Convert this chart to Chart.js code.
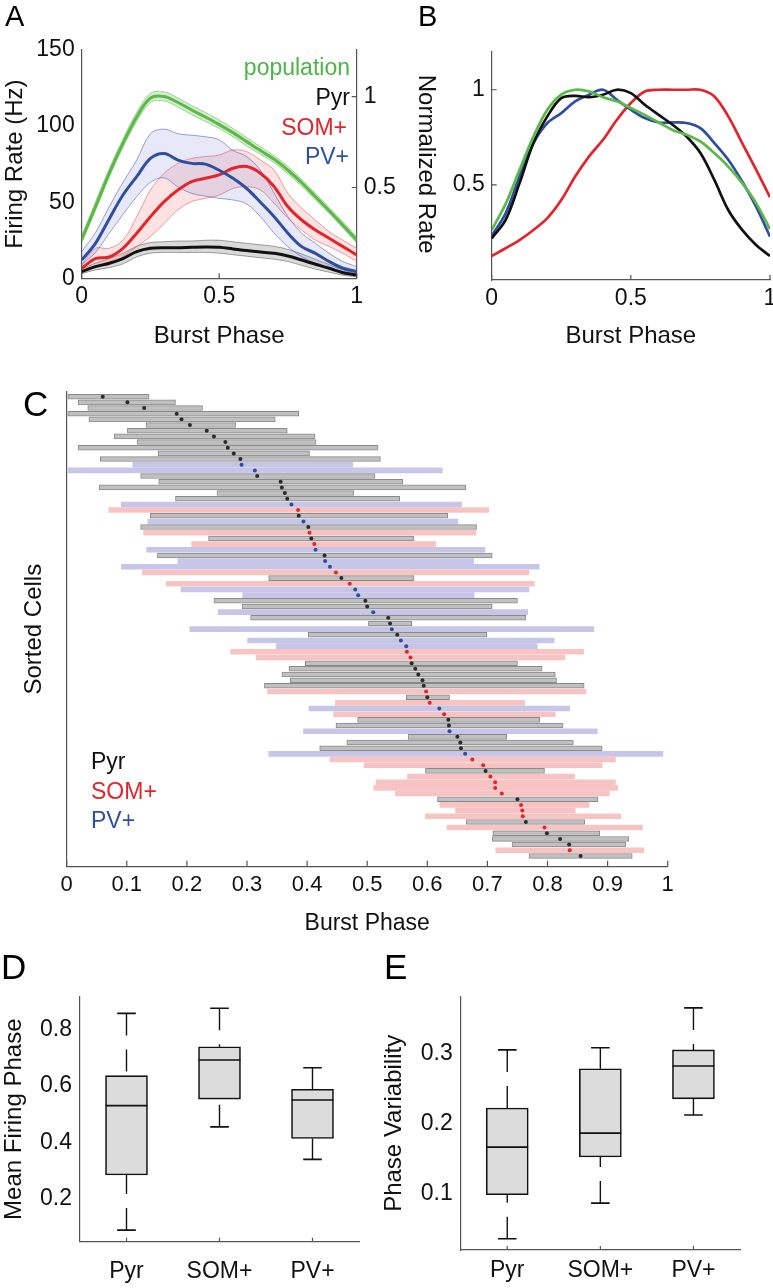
<!DOCTYPE html>
<html>
<head>
<meta charset="utf-8">
<script src="https://cdn.jsdelivr.net/npm/chart.js@4.4.1/dist/chart.umd.min.js"></script>
<style>
  html, body { margin: 0; padding: 0; background: #fff; overflow: hidden; }
  body { width: 773px; height: 1288px; position: relative; font-family: "Liberation Sans", Arial, sans-serif; }
  canvas { position: absolute; }
  .txt { position: absolute; font-size: 23px; line-height: 23px; white-space: nowrap; }
  .letter { position: absolute; line-height: 1; }
</style>
</head>
<body>
<canvas id="chartA" width="440" height="355" style="left:0;top:0"></canvas>
<canvas id="chartB" width="350" height="355" style="left:440px;top:0"></canvas>
<canvas id="chartC" width="773" height="570" style="left:0;top:370px"></canvas>
<canvas id="chartD" width="390" height="348" style="left:0;top:940px"></canvas>
<canvas id="chartE" width="398" height="348" style="left:375px;top:940px"></canvas>

<div class="letter" style="left:5px;top:2px;font-size:29px">A</div>
<div class="letter" style="left:418px;top:2px;font-size:29px">B</div>
<div class="letter" style="left:23px;top:386px;font-size:35px">C</div>
<div class="letter" style="left:1px;top:949px;font-size:35px">D</div>
<div class="letter" style="left:384px;top:949px;font-size:35px">E</div>

<div class="txt" style="right:423px;top:56px;color:#4db548">population</div>
<div class="txt" style="right:423px;top:86px;color:#111">Pyr</div>
<div class="txt" style="right:426px;top:116px;color:#e2252b">SOM+</div>
<div class="txt" style="right:424px;top:145px;color:#2f4ea2">PV+</div>

<div class="txt" style="left:91px;top:750px;color:#111">Pyr</div>
<div class="txt" style="left:91px;top:780px;color:#e2252b">SOM+</div>
<div class="txt" style="left:91px;top:809px;color:#2f4ea2">PV+</div>

<script>
// ---- panel A: firing rate vs burst phase (Hz) ----
const phase = [0, 0.05, 0.1, 0.15, 0.2, 0.25, 0.3, 0.35, 0.4, 0.45, 0.5, 0.55, 0.6, 0.65, 0.7, 0.75, 0.8, 0.85, 0.9, 0.95, 1];

const popMean = [25.6, 47, 69, 88.7, 106, 118.5, 119.5, 115.5, 110.6, 106, 101, 95.7, 89.8, 83.9, 78.2, 71, 62.8, 53.6, 44.4, 34.8, 25.2];
const popHi   = [28, 50, 72, 91.5, 109, 121.5, 122.5, 118.5, 113.5, 109, 104, 98.5, 92.5, 86.5, 80.5, 73.5, 65, 56, 46.5, 37, 27.5];
const popLo   = [23.5, 44.5, 66.5, 86, 103, 115.5, 116.5, 112.5, 107.5, 103, 98.5, 93, 87, 81.5, 76, 68.5, 60.5, 51.5, 42.5, 33, 23];

const pvMean = [12, 23, 39, 54.7, 66.8, 78.8, 82, 77.7, 75.5, 75, 71, 65.7, 59, 50, 40.5, 29.6, 20.8, 16.4, 11, 6.6, 4.4];
const pvHi   = [17.5, 30, 47, 63, 77.7, 95, 98, 95, 94, 93, 91, 84, 80, 71, 56, 40.5, 29.6, 23, 16.4, 11, 7.7];
const pvLo   = [8.8, 17, 29.6, 42, 53.6, 63, 66, 60, 55.8, 54, 52.5, 51.5, 48.8, 40.5, 29.6, 20.8, 14.2, 9.9, 6.6, 4.4, 2.8];

const somMean = [6.6, 13, 14, 19.7, 29.6, 40.5, 50.4, 58, 63.5, 65.7, 67.9, 72.3, 73.4, 69, 60.2, 47, 38.3, 31.7, 26.3, 20.8, 15.3];
const somHi   = [8.8, 19.7, 19.7, 25, 40.5, 58, 69, 75.5, 78.8, 80, 81, 84.3, 83.2, 77.7, 71, 55.8, 46, 38.3, 30.6, 25, 19.7];
const somLo   = [4.4, 7.7, 8.8, 14.2, 20.8, 27.4, 36, 45, 50.4, 52.5, 54.7, 59, 60.2, 58, 49.3, 39.4, 31.7, 25, 20.8, 16.4, 11];

const pyrMean = [4.4, 7.7, 9.9, 13, 17.5, 19.7, 20.1, 20.1, 20.4, 20.6, 20.4, 19.3, 18.2, 17.3, 16.4, 14.7, 12, 9.2, 6.6, 3.7, 2.2];
const pyrHi   = [6, 10, 13, 16.5, 21, 23.5, 24, 24.5, 24.5, 25, 25, 24, 23, 22, 21, 19, 16, 12.5, 9, 5.5, 3.5];
const pyrLo   = [3, 5.5, 7, 9.5, 14, 16.5, 17, 17, 17, 17, 16.5, 15.5, 14.5, 13.5, 12.5, 11, 8.5, 6, 4, 2, 1];

// ---- panel B: normalized rate ----
const normPop = [0.263, 0.40, 0.579, 0.754, 0.895, 0.974, 1.0, 0.991, 0.961, 0.939, 0.904, 0.868, 0.828, 0.789, 0.763, 0.728, 0.667, 0.596, 0.509, 0.404, 0.267];
const normPv  = [0.232, 0.35, 0.544, 0.72, 0.825, 0.877, 0.939, 0.974, 1.0, 0.947, 0.895, 0.851, 0.828, 0.828, 0.825, 0.798, 0.72, 0.632, 0.518, 0.386, 0.228];
const normPyr = [0.219, 0.316, 0.509, 0.72, 0.86, 0.956, 0.968, 0.961, 0.974, 1.0, 0.982, 0.921, 0.868, 0.816, 0.754, 0.667, 0.526, 0.368, 0.263, 0.184, 0.126];
const normSom = [0.126, 0.167, 0.21, 0.263, 0.325, 0.42, 0.544, 0.65, 0.737, 0.842, 0.93, 0.991, 1.0, 1.0, 1.0, 1.0, 0.965, 0.86, 0.72, 0.58, 0.435];

// ---- panel C: per-cell firing window, sorted by peak phase ----
const cellType = ['Pyr','Pyr','Pyr','Pyr','Pyr','Pyr','Pyr','Pyr','Pyr','Pyr','Pyr','Pyr','PV','PV','Pyr','Pyr','Pyr','Pyr','Pyr','PV',
  'SOM','Pyr','PV','Pyr','SOM','Pyr','SOM','PV','Pyr','PV','PV','SOM','Pyr','SOM','PV','PV','Pyr','Pyr','PV','Pyr',
  'Pyr','PV','Pyr','PV','PV','SOM','SOM','Pyr','Pyr','Pyr','Pyr','Pyr','SOM','Pyr','SOM','PV','SOM','Pyr','Pyr','PV',
  'Pyr','Pyr','Pyr','PV','SOM','SOM','Pyr','SOM','SOM','SOM','SOM','Pyr','SOM','SOM','SOM','Pyr','SOM','Pyr','Pyr','Pyr',
  'SOM','Pyr'];
const cellStart = [0.002,0.019,0.035,0.002,0.037,0.132,0.101,0.079,0.117,0.019,0.152,0.056,0.110,0.002,0.123,0.153,0.054,0.250,0.181,0.091,
  0.070,0.139,0.135,0.123,0.128,0.236,0.208,0.133,0.151,0.185,0.091,0.126,0.336,0.166,0.190,0.293,0.245,0.292,0.252,0.306,
  0.502,0.205,0.402,0.301,0.349,0.273,0.315,0.397,0.370,0.358,0.372,0.329,0.334,0.565,0.447,0.403,0.444,0.484,0.448,0.394,
  0.568,0.466,0.421,0.336,0.438,0.495,0.597,0.567,0.515,0.511,0.547,0.617,0.621,0.647,0.597,0.665,0.633,0.709,0.708,0.741,
  0.714,0.769];
const cellEnd = [0.137,0.181,0.226,0.386,0.347,0.281,0.367,0.413,0.415,0.518,0.404,0.522,0.476,0.625,0.513,0.559,0.664,0.478,0.554,0.657,
  0.702,0.634,0.651,0.682,0.681,0.578,0.614,0.696,0.708,0.677,0.786,0.769,0.578,0.778,0.769,0.678,0.750,0.708,0.767,0.764,
  0.574,0.877,0.699,0.811,0.783,0.860,0.829,0.750,0.791,0.813,0.815,0.861,0.864,0.637,0.762,0.837,0.813,0.787,0.826,0.883,
  0.732,0.843,0.891,0.992,0.913,0.891,0.795,0.845,0.913,0.917,0.903,0.884,0.869,0.846,0.922,0.862,0.958,0.887,0.935,0.930,
  0.960,0.941];
const cellPeak = [0.060,0.101,0.129,0.183,0.191,0.205,0.233,0.245,0.264,0.268,0.278,0.289,0.291,0.313,0.317,0.356,0.358,0.363,0.367,0.374,
  0.385,0.386,0.394,0.402,0.404,0.407,0.412,0.414,0.429,0.430,0.438,0.448,0.457,0.471,0.480,0.485,0.497,0.500,0.510,0.535,
  0.538,0.541,0.550,0.556,0.565,0.566,0.572,0.574,0.580,0.585,0.592,0.594,0.598,0.600,0.604,0.620,0.628,0.635,0.636,0.637,
  0.650,0.655,0.656,0.663,0.675,0.693,0.697,0.705,0.713,0.713,0.724,0.750,0.756,0.758,0.759,0.764,0.795,0.799,0.821,0.836,
  0.837,0.855];

// ---- panels D, E: box plots per cell class ----
const groups = ['Pyr', 'SOM+', 'PV+'];
const phaseWhiskHi = [0.856, 0.874, 0.664];
const phaseQ3      = [0.636, 0.738, 0.588];
const phaseMedian  = [0.530, 0.691, 0.550];
const phaseQ1      = [0.285, 0.553, 0.414];
const phaseWhiskLo = [0.090, 0.455, 0.340];

const varWhiskHi = [0.306, 0.309, 0.366];
const varQ3      = [0.223, 0.279, 0.306];
const varMedian  = [0.167, 0.187, 0.283];
const varQ1      = [0.099, 0.153, 0.236];
const varWhiskLo = [0.036, 0.087, 0.213];

const GREEN = '#5bb947', RED = '#e2252b', BLUE = '#2f4ea2', BLACK = '#111111';
const AXIS = '#555555';

Chart.defaults.font.family = '"Liberation Sans", Arial, sans-serif';
Chart.defaults.color = '#111';
Chart.defaults.animation = false;
Chart.defaults.plugins.legend.display = false;
Chart.defaults.plugins.tooltip.enabled = false;

// MATLAB style tick marks that point into the plot
const inwardTicks = {
  id: 'inwardTicks',
  afterDraw(chart) {
    const ctx = chart.ctx;
    ctx.save();
    ctx.strokeStyle = AXIS;
    ctx.lineWidth = 1.2;
    Object.values(chart.scales).forEach(s => {
      const len = s.options.inTick;
      if (!len) return;
      ctx.beginPath();
      s.ticks.forEach(t => {
        const p = s.getPixelForValue(t.value);
        if (s.isHorizontal()) { ctx.moveTo(p, s.top); ctx.lineTo(p, s.top - len); }
        else if (s.position === 'left') { ctx.moveTo(s.right, p); ctx.lineTo(s.right + len, p); }
        else { ctx.moveTo(s.left, p); ctx.lineTo(s.left - len, p); }
      });
      ctx.stroke();
    });
    ctx.restore();
  }
};

function fixedTicks(values) {
  return scale => { scale.ticks = values.map(v => ({ value: v })); };
}

function axis(opts) {
  return Object.assign({
    type: 'linear',
    grid: { display: false, drawTicks: false },
    border: { display: true, color: AXIS, width: 1.2 },
  }, opts);
}

function pts(ys) {
  return phase.map((p, i) => ({ x: p, y: ys[i] }));
}

function meanLine(ys, color) {
  return { data: pts(ys), borderColor: color, borderWidth: 3, pointRadius: 0, fill: false, tension: 0.35 };
}
function bandEdge(ys, color, fillColor) {
  return { data: pts(ys), borderColor: color, borderWidth: 1, pointRadius: 0, tension: 0.35,
           fill: fillColor ? '+1' : false, backgroundColor: fillColor || 'transparent' };
}

// ---------- A ----------
new Chart(document.getElementById('chartA'), {
  type: 'line',
  data: {
    datasets: [
      meanLine(popMean, GREEN),
      meanLine(pvMean, BLUE),
      meanLine(somMean, RED),
      meanLine(pyrMean, BLACK),
      bandEdge(popHi, 'rgba(91,185,71,0.55)', 'rgba(91,185,71,0.25)'),
      bandEdge(popLo, 'rgba(91,185,71,0.55)'),
      bandEdge(pvHi, 'rgba(70,85,185,0.55)', 'rgba(110,120,210,0.16)'),
      bandEdge(pvLo, 'rgba(70,85,185,0.55)'),
      bandEdge(somHi, 'rgba(230,80,80,0.55)', 'rgba(240,110,110,0.2)'),
      bandEdge(somLo, 'rgba(230,80,80,0.55)'),
      bandEdge(pyrHi, 'rgba(0,0,0,0.35)', 'rgba(0,0,0,0.15)'),
      bandEdge(pyrLo, 'rgba(0,0,0,0.35)'),
    ]
  },
  options: {
    responsive: false,
    layout: { padding: { top: 50, left: 0, right: 0, bottom: 0 } },
    scales: {
      x: axis({
        min: 0, max: 1, inTick: 5,
        afterBuildTicks: fixedTicks([0, 0.5, 1]),
        afterFit: s => { s.height = 76.7; },
        ticks: { padding: 5, font: { size: 23 }, callback: v => String(v) },
        title: { display: true, text: 'Burst Phase', font: { size: 24 }, padding: { top: 0, bottom: 4 } }
      }),
      y: axis({
        position: 'left', min: 0, max: 150,
        afterBuildTicks: fixedTicks([0, 50, 100, 150]),
        afterFit: s => { s.width = 81.7; },
        ticks: { padding: 7, font: { size: 23 } },
        title: { display: true, text: 'Firing Rate (Hz)', font: { size: 24 }, padding: { top: 1, bottom: 0 } }
      }),
      y2: axis({
        position: 'right', min: 0, max: 1.257, inTick: 5,
        afterBuildTicks: fixedTicks([0.5, 1]),
        afterFit: s => { s.width = 83.3; },
        ticks: { padding: 7, font: { size: 23 }, callback: v => String(v) },
        title: { display: true, text: 'Normalized Rate', font: { size: 24 }, padding: { top: 0, bottom: 0 } }
      })
    }
  },
  plugins: [inwardTicks]
});

// ---------- B ----------
function normLine(ys, color) {
  return { data: pts(ys), borderColor: color, borderWidth: 2.7, pointRadius: 0, tension: 0.35 };
}
new Chart(document.getElementById('chartB'), {
  type: 'line',
  data: {
    datasets: [
      normLine(normPop, GREEN),
      normLine(normPyr, BLACK),
      normLine(normPv, BLUE),
      normLine(normSom, RED),
    ]
  },
  options: {
    responsive: false,
    layout: { padding: { top: 51.7, left: 0, right: 20, bottom: 0 } },
    scales: {
      x: axis({
        min: 0, max: 1, inTick: 5,
        afterBuildTicks: fixedTicks([0, 0.5, 1]),
        afterFit: s => { s.height = 75; },
        ticks: { padding: 5, font: { size: 23 }, callback: v => String(v) },
        title: { display: true, text: 'Burst Phase', font: { size: 24 }, padding: { top: 0, bottom: 4 } }
      }),
      y: axis({
        position: 'left', min: 0, max: 1.2, inTick: 5,
        afterBuildTicks: fixedTicks([0.5, 1]),
        afterFit: s => { s.width = 51.7; },
        ticks: { padding: 7, font: { size: 23 }, callback: v => String(v) }
      })
    }
  },
  plugins: [inwardTicks]
});

// ---------- C ----------
const barFill = { Pyr: '#c0c0c0', SOM: '#f8c3c3', PV: '#c6c6e8' };
const dotFill = { Pyr: '#2b2b2b', SOM: '#e2252b', PV: '#2f4ea2' };

new Chart(document.getElementById('chartC'), {
  type: 'bar',
  data: {
    datasets: [
      {
        type: 'scatter',
        data: cellPeak.map((p, i) => ({ x: p, y: i })),
        pointRadius: 2,
        pointBorderWidth: 0,
        pointBackgroundColor: cellType.map(t => dotFill[t]),
        order: 0
      },
      {
        type: 'bar',
        data: cellStart.map((s, i) => ({ x: [s, cellEnd[i]], y: i })),
        backgroundColor: cellType.map(t => barFill[t]),
        borderColor: cellType.map(t => (t === 'Pyr' ? '#8a8a8a' : 'rgba(0,0,0,0)')),
        borderWidth: cellType.map(t => (t === 'Pyr' ? 1 : 0)),
        borderSkipped: false,
        barThickness: 4.9,
        order: 1
      }
    ]
  },
  options: {
    indexAxis: 'y',
    responsive: false,
    layout: { padding: { top: 21.7, left: 0, right: 105.3, bottom: 0 } },
    scales: {
      x: axis({
        position: 'bottom', min: 0, max: 1, inTick: 6,
        afterBuildTicks: fixedTicks([0, 0.1, 0.2, 0.3, 0.4, 0.5, 0.6, 0.7, 0.8, 0.9, 1]),
        afterFit: s => { s.height = 73.3; },
        ticks: { padding: 5, font: { size: 22 }, callback: v => String(v) },
        title: { display: true, text: 'Burst Phase', font: { size: 23 }, padding: { top: 0, bottom: 3 } }
      }),
      y: axis({
        position: 'left', min: -0.88, max: 82.9, reverse: true, offset: false,
        afterFit: s => { s.width = 66.7; },
        ticks: { display: false },
        title: { display: true, text: 'Sorted Cells', font: { size: 24 }, padding: { top: 20, bottom: 0 } }
      })
    }
  },
  plugins: [inwardTicks]
});

// ---------- D, E ----------
function boxChart(id, hi, q3, med, q1, lo, yMin, yMax, yTicks, yTitle, geom) {
  const whiskers = [], marks = [];
  groups.forEach((g, i) => {
    const c = i + 0.5;
    whiskers.push({ x: c, y: hi[i] }, { x: c, y: q3[i] }, { x: c, y: null });
    whiskers.push({ x: c, y: lo[i] }, { x: c, y: q1[i] }, { x: c, y: null });
    marks.push({ x: c - 0.1, y: hi[i] }, { x: c + 0.1, y: hi[i] }, { x: c, y: null });
    marks.push({ x: c - 0.1, y: lo[i] }, { x: c + 0.1, y: lo[i] }, { x: c, y: null });
    marks.push({ x: c - 0.225, y: med[i] }, { x: c + 0.225, y: med[i] }, { x: c, y: null });
  });
  new Chart(document.getElementById(id), {
    type: 'bar',
    data: {
      datasets: [
        { type: 'line', data: marks, borderColor: '#111', borderWidth: 1.6, pointRadius: 0, spanGaps: false, fill: false, order: 0 },
        { type: 'line', data: whiskers, borderColor: '#111', borderWidth: 1.4, borderDash: [22, 14], pointRadius: 0, spanGaps: false, fill: false, order: 1 },
        {
          type: 'bar',
          data: groups.map((g, i) => ({ x: i + 0.5, y: [q1[i], q3[i]] })),
          backgroundColor: '#dcdcdc', borderColor: '#111', borderWidth: 1.6, borderSkipped: false,
          barThickness: 42, order: 2
        }
      ]
    },
    options: {
      responsive: false,
      layout: { padding: { top: 56.7, left: 0, right: geom.right, bottom: 0 } },
      scales: {
        x: axis({
          min: 0, max: 3, offset: false, inTick: 4,
          afterBuildTicks: fixedTicks([0.5, 1.5, 2.5]),
          afterFit: s => { s.height = geom.xh; },
          ticks: { padding: geom.xpad, font: { size: 23 }, callback: (v, i) => groups[i] }
        }),
        y: axis({
          position: 'left', min: yMin, max: yMax,
          afterBuildTicks: fixedTicks(yTicks),
          afterFit: s => { s.width = geom.yw; },
          ticks: { padding: 8, font: { size: 23 }, callback: v => String(v) },
          title: { display: true, text: yTitle, font: { size: 24 }, padding: { top: geom.tpad, bottom: 0 } }
        })
      }
    },
    plugins: [inwardTicks]
  });
}

boxChart('chartD', phaseWhiskHi, phaseQ3, phaseMedian, phaseQ1, phaseWhiskLo,
  0.049, 0.915, [0.2, 0.4, 0.6, 0.8], 'Mean Firing Phase',
  { right: 31, xh: 46.3, xpad: 16, yw: 80, tpad: 0 });

boxChart('chartE', varWhiskHi, varQ3, varMedian, varQ1, varWhiskLo,
  0.02, 0.382, [0.1, 0.2, 0.3], 'Phase Variability',
  { right: 33, xh: 38, xpad: 7, yw: 85.7, tpad: 5 });
</script>
</body>
</html>
